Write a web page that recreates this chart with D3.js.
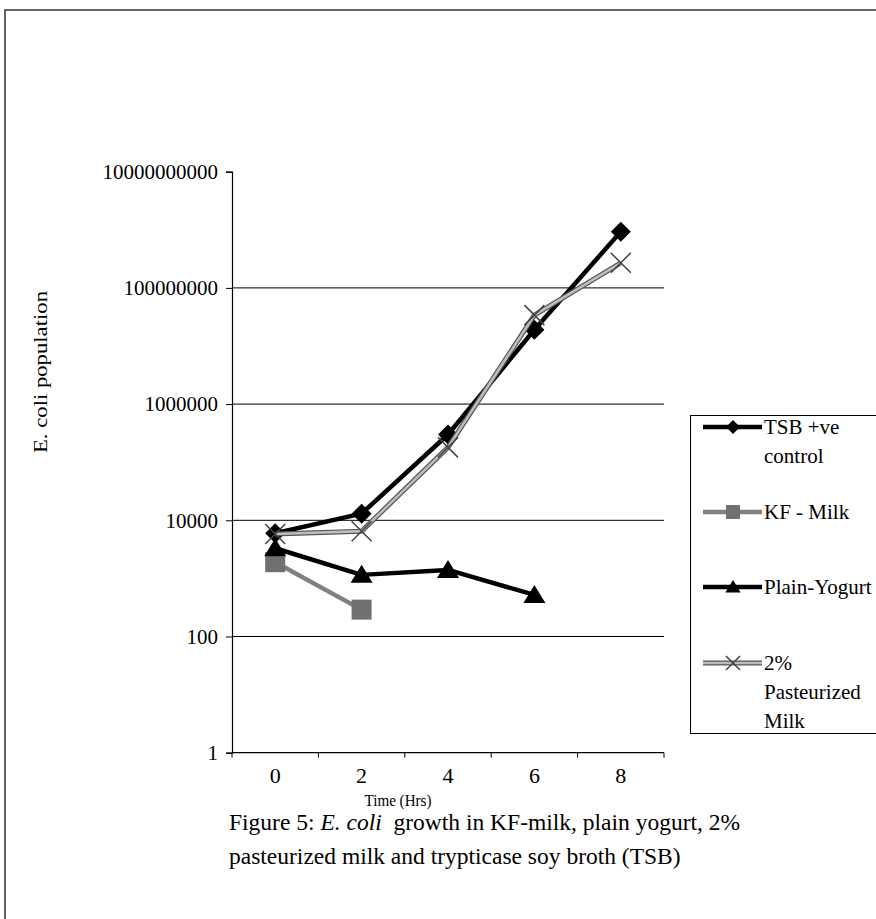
<!DOCTYPE html>
<html>
<head>
<meta charset="utf-8">
<script src="https://cdn.jsdelivr.net/npm/d3@7"></script>
<style>
    body { margin: 0; background: #fff; }
    svg, svg text { font-family: "Liberation Serif", "Times New Roman", serif; }
</style>
</head>
<body>
<div id="chart-container"></div>
<script>
// Data
const timeLabels = ["0", "2", "4", "6", "8"];
const tsbControl = [6000, 13000, 300000, 19000000, 930000000];
const kfMilk = [1900, 290, null, null, null];
const plainYogurt = [3300, 1150, 1400, 520, null];
const pasteurizedMilk = [5800, 6500, 180000, 34000000, 270000000];
const yTicks = [1, 100, 10000, 1000000, 100000000, 10000000000];

const width = 876;
const height = 919;

const svg = d3.select("#chart-container")
    .append("svg")
    .attr("width", width)
    .attr("height", height);

svg.append("rect")
    .attr("width", width)
    .attr("height", height)
    .attr("fill", "#fff");

// page frame (scanned border)
svg.append("path")
    .attr("d", `M5,${height} L5,10 L${width},10`)
    .attr("fill", "none")
    .attr("stroke", "#333")
    .attr("stroke-width", 1.5);

// Scales
const x = d3.scaleBand()
    .domain(timeLabels)
    .range([232, 664]);

const y = d3.scaleLog()
    .domain([1, 1e10])
    .range([752.7, 171.7]);

const cx = d => x(d) + x.bandwidth() / 2;

// Gridlines
svg.append("g")
    .selectAll("line")
    .data(yTicks.filter(t => t > 1 && t < 1e10))
    .join("line")
    .attr("x1", 232)
    .attr("x2", 664)
    .attr("y1", d => y(d))
    .attr("y2", d => y(d))
    .attr("stroke", "#000")
    .attr("stroke-width", 1);

// Y axis
const yAxis = svg.append("g")
    .attr("transform", "translate(232,0)")
    .call(d3.axisLeft(y).tickValues(yTicks).tickFormat(d3.format("d")).tickSize(6).tickPadding(8))
    .attr("font-family", null)
    .attr("font-size", null);
yAxis.select(".domain").attr("stroke", "#000").attr("stroke-width", 1.2);
yAxis.selectAll("text").style("font-size", "21px").attr("fill", "#000");

// X axis (ticks between categories, like Excel)
const xAxisG = svg.append("g").attr("transform", `translate(0,${y(1)})`);
xAxisG.append("line")
    .attr("x1", 232).attr("x2", 664)
    .attr("stroke", "#000").attr("stroke-width", 1.2);
const xEdges = timeLabels.map(d => x(d)).concat([x.range()[1]]);
xAxisG.selectAll(".tk")
    .data(xEdges)
    .join("line")
    .attr("class", "tk")
    .attr("x1", d => d)
    .attr("x2", d => d)
    .attr("y1", 0).attr("y2", 5)
    .attr("stroke", "#000");
xAxisG.selectAll(".lbl")
    .data(timeLabels)
    .join("text")
    .attr("class", "lbl")
    .attr("x", d => cx(d))
    .attr("y", 30)
    .attr("text-anchor", "middle")
    .style("font-size", "22px")
    .text(d => d);

// Axis titles
svg.append("text")
    .attr("transform", "translate(47,372) rotate(-90)")
    .attr("text-anchor", "middle")
    .attr("textLength", 162)
    .attr("lengthAdjust", "spacingAndGlyphs")
    .style("font-size", "19px")
    .text("E. coli population");

svg.append("text")
    .attr("x", 398)
    .attr("y", 806)
    .attr("text-anchor", "middle")
    .attr("textLength", 67)
    .attr("lengthAdjust", "spacingAndGlyphs")
    .style("font-size", "17px")
    .text("Time (Hrs)");

// Marker shapes
const diamond = s => `M0,${-s}L${s},0L0,${s}L${-s},0Z`;
const square = s => `M${-s},${-s}H${s}V${s}H${-s}Z`;
const triangle = s => `M0,${-s}L${s * 1.1},${s * 0.8}H${-s * 1.1}Z`;
const cross = s => `M${-s},${-s}L${s},${s}M${s},${-s}L${-s},${s}`;

const series = [
    { name: ["TSB +ve", "control"], values: tsbControl, line: [{ c: "#000", w: 4.5 }], marker: diamond, mSize: 10, mFill: "#000", mStroke: "none" },
    { name: ["KF - Milk"], values: kfMilk, line: [{ c: "#808080", w: 4.5 }], marker: square, mSize: 10, mFill: "#707070", mStroke: "none" },
    { name: ["Plain-Yogurt"], values: plainYogurt, line: [{ c: "#000", w: 4.5 }], marker: triangle, mSize: 10, mFill: "#000", mStroke: "none" },
    { name: ["2%", "Pasteurized", "Milk"], values: pasteurizedMilk, line: [{ c: "#555", w: 5 }, { c: "#bdbdbd", w: 2.6 }], marker: cross, mSize: 10, mFill: "none", mStroke: "#444" }
];

const lineGen = d3.line()
    .defined(d => d.v != null)
    .x(d => cx(d.t))
    .y(d => y(d.v));

// Lines + markers
series.forEach(s => {
    const pts = timeLabels.map((t, i) => ({ t, v: s.values[i] }));
    const g = svg.append("g");
    s.line.forEach(l => {
        g.append("path")
            .datum(pts)
            .attr("d", lineGen)
            .attr("fill", "none")
            .attr("stroke", l.c)
            .attr("stroke-width", l.w)
            .attr("stroke-linejoin", "round");
    });
    g.selectAll(".m")
        .data(pts.filter(d => d.v != null))
        .join("path")
        .attr("class", "m")
        .attr("transform", d => `translate(${cx(d.t)},${y(d.v)})`)
        .attr("d", s.marker(s.mSize))
        .attr("fill", s.mFill)
        .attr("stroke", s.mStroke)
        .attr("stroke-width", 1.5);
});

// Legend
const legend = svg.append("g");
legend.append("rect")
    .attr("x", 690.5).attr("y", 415.5)
    .attr("width", 200).attr("height", 318)
    .attr("fill", "#fff")
    .attr("stroke", "#000")
    .attr("stroke-width", 1);

const legendRows = [427, 512, 587, 663];
series.forEach((s, i) => {
    const ly = legendRows[i];
    const row = legend.append("g");
    s.line.forEach(l => {
        row.append("line")
            .attr("x1", 703).attr("x2", 762)
            .attr("y1", ly).attr("y2", ly)
            .attr("stroke", l.c)
            .attr("stroke-width", l.w);
    });
    row.append("path")
        .attr("transform", `translate(733,${ly})`)
        .attr("d", s.marker(7))
        .attr("fill", s.mFill)
        .attr("stroke", s.mStroke)
        .attr("stroke-width", 1.5);
    s.name.forEach((n, j) => {
        row.append("text")
            .attr("x", 764)
            .attr("y", ly + 7 + j * 29)
            .style("font-size", "21px")
            .text(n);
    });
});

// Caption
const caption = svg.append("text")
    .attr("x", 229)
    .attr("y", 830)
    .style("font-size", "23.5px");
caption.append("tspan").text("Figure 5: ");
caption.append("tspan").style("font-style", "italic").text("E. coli");
caption.append("tspan").text("\u00a0 growth in KF-milk, plain yogurt, 2%");

svg.append("text")
    .attr("x", 229)
    .attr("y", 864)
    .style("font-size", "23.5px")
    .text("pasteurized milk and trypticase soy broth (TSB)");
</script>
</body>
</html>
